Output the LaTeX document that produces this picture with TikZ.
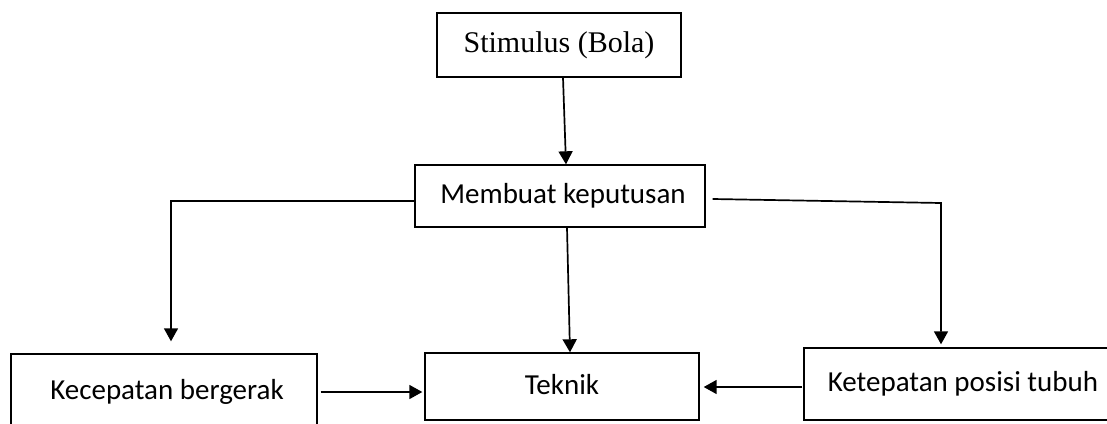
\documentclass[tikz,border=0pt]{standalone}
\usepackage{fontspec}
\setmainfont{Liberation Serif}
\newfontfamily\calfont{Carlito}
\usetikzlibrary{arrows.meta}
\begin{document}
\begin{tikzpicture}[x=1pt,y=-1pt,
  box/.style={draw=black,line width=1.4pt,inner sep=0pt,fill=white},
  ctext/.style={font=\calfont\fontsize{29}{34}\selectfont},
  stext/.style={font=\fontsize{30}{34}\selectfont},
  arr/.style={line width=1.7pt,-{Triangle[length=13pt,width=14pt]}},
  ln/.style={line width=1.7pt}]
\useasboundingbox (0,0) rectangle (1107,423);
\clip (0,0) rectangle (1107,423);
\node[box,stext,minimum width=244pt,minimum height=64pt] (stim) at (559,45) {Stimulus (Bola)};
\node[box,ctext,minimum width=290pt,minimum height=62pt] (memb) at (560,196) {\hspace*{6pt}Membuat keputusan};
\node[box,ctext,minimum width=306pt,minimum height=76pt] (kec) at (164,392) {\hspace*{6pt}\raisebox{-2pt}{Kecepatan bergerak}};
\node[box,ctext,minimum width=274pt,minimum height=67pt] (tek) at (562,386.5) {\raisebox{4pt}{Teknik}};
\node[box,ctext,minimum width=318pt,minimum height=72pt] (ket) at (963,384) {\raisebox{-1pt}{Ketepatan posisi tubuh}};
\coordinate (rc) at (941,203);
\draw[arr] ([xshift=4pt]stim.south) -- ([xshift=6pt]memb.north);
\draw[arr] ([xshift=7pt]memb.south) -- ([xshift=8pt]tek.north);
\draw[arr] ([xshift=0pt,yshift=-5pt]memb.west) -| ([xshift=7pt,yshift=12pt]kec.north);
\draw[arr] ([xshift=7pt,yshift=-3pt]memb.east) -- (rc) -- ([xshift=-22pt,yshift=3pt]ket.north);
\draw[arr] ([xshift=3pt]kec.east) -- ([xshift=-2pt,yshift=-5.5pt]tek.west);
\draw[arr] ([xshift=-1pt,yshift=-3pt]ket.west) -- ([xshift=4pt,yshift=-0.5pt]tek.east);
\end{tikzpicture}
\end{document}
